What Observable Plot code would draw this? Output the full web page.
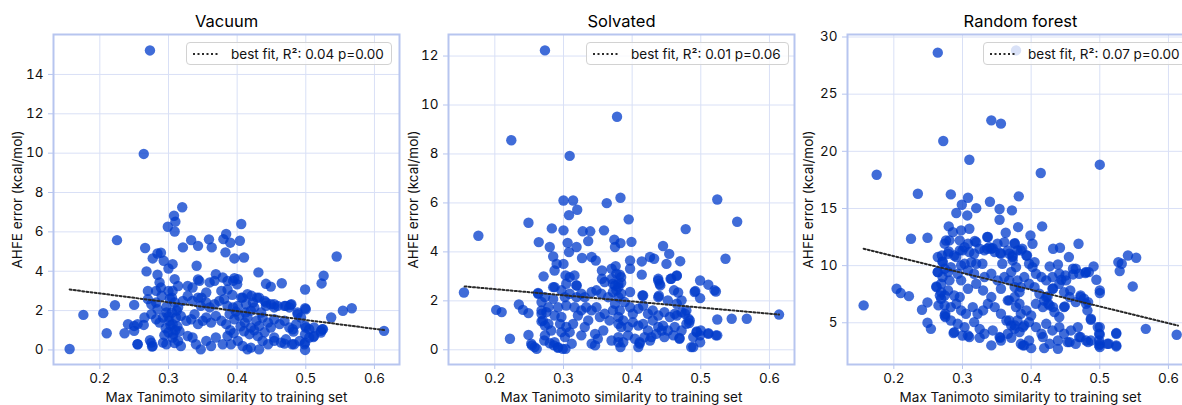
<!DOCTYPE html>
<html><head><meta charset="utf-8">
<script src="https://cdn.jsdelivr.net/npm/d3@7"></script>
<script src="https://cdn.jsdelivr.net/npm/@observablehq/plot@0.6"></script>
<style>
html,body{margin:0;padding:0;background:#fff;overflow:hidden;}
#wrap{position:relative;width:1182px;height:405px;overflow:hidden;font-family:Inter,"DejaVu Sans",sans-serif;}
.panel{position:absolute;top:0;}
.legend{position:absolute;top:42px;height:23px;box-sizing:border-box;border:1px solid #d2d2d2;border-radius:4px;background:rgba(255,255,255,0.8);display:flex;align-items:center;padding:0 7px 0 5px;font-size:13.5px;color:#111;white-space:nowrap;}
.legend svg{margin-right:12px;}
</style></head><body><div id="wrap"></div>
<script>
const titles = ["Vacuum", "Solvated", "Random forest"];
const xLabel = "Max Tanimoto similarity to training set";
const yLabel = "AHFE error (kcal/mol)";
const legendLabels = ["best fit, R\u00b2: 0.04 p=0.00", "best fit, R\u00b2: 0.01 p=0.06", "best fit, R\u00b2: 0.07 p=0.00"];
const xTicks = [0.2, 0.3, 0.4, 0.5, 0.6];
const vacuumYTicks = [0, 2, 4, 6, 8, 10, 12, 14];
const solvatedYTicks = [0, 2, 4, 6, 8, 10, 12];
const forestYTicks = [5, 10, 15, 20, 25, 30];

const vacuumFit = [[0.156, 3.07], [0.614, 1.01]];
const solvatedFit = [[0.156, 2.59], [0.614, 1.44]];
const forestFit = [[0.156, 11.48], [0.614, 4.75]];

const vacuumPoints = [
[.273,15.22],[.264,9.96],[.225,5.58],[.156,0.05],[.176,1.78],[.205,1.87],[.21,0.85],[.222,2.27],[.236,0.85],[.241,1.31],[.25,2.29],[.25,0.97],[.25,1.22],[.255,0.29],[.264,1.27],[.266,5.18],[.268,3.99],[.27,3.0],[.276,0.17],[.273,0.49],[.277,4.65],[.284,4.9],[.289,4.94],[.284,3.82],[.287,3.43],[.293,4.53],[.299,6.26],[.308,6.82],[.31,6.52],[.309,6.02],[.32,7.25],[.321,5.21],[.306,4.36],[.3,4.14],[.309,3.6],[.333,5.58],[.343,5.29],[.341,4.28],[.343,3.58],[.359,5.62],[.363,5.21],[.38,5.63],[.384,5.89],[.383,4.96],[.39,5.45],[.396,4.65],[.404,5.55],[.406,6.4],[.41,4.7],[.369,3.85],[.379,3.68],[.396,3.65],[.4,3.34],[.393,2.8],[.431,3.94],[.442,3.36],[.449,3.22],[.465,3.39],[.499,3.07],[.499,2.12],[.523,3.38],[.526,3.77],[.545,4.75],[.537,1.65],[.554,1.99],[.567,2.12],[.614,0.97],[.524,1.05],[.511,0.66],[.499,0.0],[.499,0.37],[.499,0.8],[.499,1.22],[.488,1.82],[.478,2.29],[.471,2.24],[.482,0.93],[.48,0.29],[.469,0.32],[.454,0.46],[.445,0.29],[.432,0.03],[.415,0.03],[.442,2.41],[.454,2.32],[.429,2.66],[.415,2.83],[.421,2.75],[.406,2.66],
[.282,3.0],[.289,3.17],[.3,3.0],[.306,3.0],[.314,3.25],[.328,3.25],[.335,3.17],[.345,3.51],[.36,3.43],[.367,3.51],[.386,3.51],[.394,3.51],[.401,3.6],[.386,3.07],[.377,3.0],[.355,2.92],[.348,2.66],
[.27,2.58],[.275,2.32],[.282,2.41],[.284,2.07],[.29,2.75],[.305,2.66],[.309,2.41],[.314,2.16],[.321,2.49],[.328,2.75],[.335,2.49],[.343,2.66],[.347,2.24],[.355,2.41],[.36,2.16],[.367,2.32],[.374,2.49],[.381,2.58],[.386,2.24],[.394,2.16],[.401,2.24],[.408,2.66],[.413,2.32],[.423,2.41],[.425,2.16],[.432,2.66],[.44,2.49],[.442,2.24],[.449,2.32],[.454,2.16],[.459,2.24],[.469,2.24],[.476,2.16],[.479,2.32],[.488,1.9],[.5,2.07],
[.255,1.31],[.265,1.65],[.275,1.82],[.282,1.56],[.287,1.39],[.292,1.65],[.297,1.9],[.301,1.48],[.306,1.31],[.311,1.65],[.318,1.73],[.326,1.48],[.333,1.56],[.338,1.82],[.343,1.31],[.35,1.48],[.355,1.65],[.362,1.39],[.369,1.73],[.377,1.48],[.384,1.31],[.389,1.82],[.396,1.56],[.403,1.73],[.411,1.39],[.415,1.65],[.42,1.14],[.428,1.48],[.432,1.22],[.437,1.65],[.445,1.39],[.449,1.14],[.454,1.56],[.462,1.31],[.469,1.48],[.476,1.14],[.481,1.05],[.486,1.31],[.493,1.65],[.5,1.14],[.505,1.05],[.512,1.14],[.522,0.97],[.525,1.05],
[.255,0.29],[.275,0.37],[.277,0.2],[.292,0.37],[.297,0.29],[.306,0.63],[.314,0.46],[.318,0.2],[.328,0.71],[.335,0.63],[.34,0.29],[.347,0.03],[.355,0.46],[.362,0.2],[.369,0.63],[.379,0.29],[.386,0.71],[.391,0.29],[.401,0.46],[.408,0.2],[.42,0.12],[.437,0.46],[.454,0.63],[.464,0.37],[.471,0.54],[.483,0.29],[.491,0.46],[.498,0.29],[.505,0.63],[.512,0.71],[.522,0.88],
[.296,1.1],[.3,0.9],[.303,1.25],[.307,0.8],[.31,1.0],[.312,2.0],[.316,0.95],[.297,2.2],[.302,2.6],[.294,0.75],[.305,1.9],[.3,1.7],[.309,0.35],[.313,1.2],
[.39,1.0],[.395,0.85],[.405,1.2],[.41,0.95],[.418,0.8],[.425,1.0],[.43,0.7],[.398,1.95],[.412,1.9],[.42,2.0],[.435,1.9],[.44,0.9]
];

const solvatedPoints = [
[.273,12.23],[.378,9.52],[.224,8.56],[.309,7.92],[.176,4.66],[.155,2.34],[.249,5.19],[.3,6.1],[.314,6.1],[.32,5.72],[.308,5.5],[.363,5.99],[.383,6.21],[.395,5.33],[.524,6.14],[.553,5.23],[.536,3.72],[.478,4.93],[.283,4.96],[.3,4.88],[.264,4.4],[.28,4.2],[.306,4.37],[.319,4.2],[.328,4.84],[.339,4.84],[.359,4.88],[.336,4.44],[.374,4.5],[.383,4.36],[.375,4.2],[.399,4.41],[.285,3.81],[.29,3.51],[.3,3.51],[.308,3.99],[.327,3.75],[.341,3.79],[.347,3.65],[.356,3.24],[.37,3.31],[.376,3.42],[.397,3.65],[.397,3.31],[.414,3.61],[.426,3.79],[.432,3.72],[.445,4.24],[.454,3.92],[.45,3.51],[.47,3.62],[.271,3.0],[.287,3.24],[.303,3.04],[.316,3.04],[.319,2.63],[.356,2.9],[.382,3.07],[.384,2.74],[.414,3.07],[.438,2.83],[.441,2.63],[.456,2.9],[.465,3.02],[.499,2.83],[.511,2.66],[.522,2.38],[.499,2.11],[.492,2.4],[.467,2.34],[.461,2.43],[.439,2.21],[.415,2.22],[.545,1.27],[.567,1.27],[.614,1.44],[.524,1.24],[.524,0.59],[.511,0.68],[.499,0.31],[.489,0.11],[.5,0.79],[.494,0.75],[.202,1.63],[.21,1.54],[.235,1.85],[.241,1.63],[.249,1.5],[.222,0.45],[.249,0.61],[.254,0.18],[.261,0.04],[.263,2.32],[.268,1.16],[.272,0.38],[.28,0.27],[.286,0.18],[.292,0.08],[.303,0.04],[.312,0.25],[.346,0.18],[.383,0.11],[.409,0.11],[.411,0.31],[.428,0.52],[.443,0.79],[.469,0.48],[.482,1.27],[.483,1.09],[.477,1.47],[.465,1.4],
[.263,2.29],[.273,2.15],[.268,1.95],[.278,1.74],[.285,2.08],[.287,2.56],[.297,2.43],[.302,2.15],[.309,2.29],[.319,2.15],[.326,2.29],[.331,2.15],[.341,2.36],[.348,2.43],[.355,2.29],[.365,2.15],[.372,2.36],[.38,2.15],[.27,1.2],[.278,1.06],[.282,0.79],[.273,0.59],[.287,0.31],[.295,1.06],[.297,0.72],[.302,0.52],[.304,0.93],[.309,0.72],[.314,1.06],[.321,1.4],[.326,0.59],[.331,0.93],[.336,1.2],[.341,1.61],[.348,1.74],[.353,1.34],[.36,1.47],[.367,1.2],[.372,1.61],[.38,1.34],[.384,0.93],[.358,0.79],[.346,0.65],[.341,0.25],[.35,0.45],[.37,0.38],[.38,0.31],[.258,0.11],[.253,0.25],[.292,0.11],[.299,0.04],[.268,1.47],[.275,1.54],[.292,1.74],[.304,1.81],[.316,1.74],[.326,1.61],[.333,1.74],[.297,1.34],[.287,1.4],[.273,0.99],[.372,2.7],[.36,2.77],[.38,2.56],[.37,2.9],[.377,3.11],[.309,2.97],[.304,2.7],[.319,2.63],[.285,2.56],[.268,1.61],
[.375,1.88],[.382,1.61],[.389,1.95],[.397,1.74],[.401,1.47],[.409,1.68],[.416,1.81],[.423,1.47],[.43,1.61],[.438,1.4],[.447,1.54],[.455,1.34],[.462,1.47],[.472,1.54],[.479,1.61],[.38,1.06],[.387,1.2],[.394,0.93],[.401,1.13],[.409,0.99],[.416,1.06],[.423,0.79],[.43,1.2],[.438,0.93],[.445,0.99],[.452,0.79],[.462,0.93],[.472,0.79],[.479,1.06],[.484,1.2],[.38,0.52],[.387,0.31],[.394,0.59],[.404,0.45],[.411,0.25],[.418,0.52],[.426,0.38],[.435,0.65],[.447,0.52],[.46,0.59],[.469,0.45],[.489,0.52],[.494,0.72],[.499,0.59],[.486,0.11],[.511,0.65],[.522,0.59],[.465,1.88],[.472,2.02],[.438,2.15],[.452,2.02],[.416,2.22],[.377,2.43],[.384,2.29],[.397,2.36],[.438,2.9],[.44,2.7],[.457,2.9],[.465,3.04],[.491,2.36],[.52,2.43],[.375,2.63],[.38,2.7],[.384,2.97]
];

const forestPoints = [
[.264,28.63],[.378,28.83],[.342,22.71],[.356,22.42],[.272,20.9],[.31,19.26],[.175,17.95],[.414,18.1],[.5,18.83],[.235,16.29],[.283,16.23],[.382,16.06],[.308,15.94],[.34,15.59],[.354,14.95],[.372,14.83],[.354,14.01],[.32,15.03],[.299,15.33],[.291,14.6],[.307,14.39],[.298,13.08],[.28,13.43],[.286,12.93],[.31,13.23],[.363,12.88],[.381,13.37],[.416,13.43],[.399,12.64],[.402,11.91],[.225,12.35],[.249,12.44],[.276,12.2],[.318,12.15],[.336,12.5],[.376,11.97],[.336,11.48],[.344,11.53],[.355,11.1],[.387,11.48],[.432,11.48],[.442,11.56],[.469,11.91],[.27,10.89],[.28,11.24],[.291,10.75],[.3,11.33],[.271,10.37],[.32,10.16],[.329,10.16],[.358,10.16],[.373,10.75],[.394,10.89],[.405,10.31],[.427,9.93],[.439,10.1],[.455,10.75],[.527,10.31],[.532,10.16],[.541,10.89],[.553,10.69],[.491,9.93],[.465,9.73],[.461,9.23],[.45,9.14],[.444,8.76],[.484,9.43],[.495,8.76],[.529,9.52],[.548,8.18],[.479,9.35],[.5,7.83],[.5,7.6],[.483,6.81],[.472,7.39],[.477,7.1],[.457,7.83],[.432,8.0],[.424,7.3],[.419,6.95],[.425,6.66],[.432,6.37],[.449,6.43],[.482,6.08],[.487,5.26],[.5,4.62],[.5,3.98],[.5,3.16],[.5,2.87],[.513,3.16],[.524,4.1],[.524,2.93],[.567,4.47],[.612,3.95],[.156,6.52],[.204,7.98],[.21,7.6],[.222,7.33],[.241,6.14],[.249,6.78],[.249,5.0],[.254,4.47],[.262,8.18],[.264,9.43],[.271,9.0],[.267,7.39],[.265,6.52],[.275,5.79],[.275,5.5],[.287,4.1],[.3,3.89],[.31,3.75],[.325,3.69],[.342,3.02],[.355,3.69],[.371,3.69],[.39,3.02],[.4,2.78],[.419,2.78],[.439,2.72],[.456,3.31],[.472,3.75],[.483,3.31],
[.264,10.75],[.271,10.31],[.279,11.04],[.288,10.89],[.296,11.33],[.303,11.62],[.31,11.19],[.317,11.04],[.325,11.48],[.332,11.33],[.339,11.62],[.347,11.19],[.356,11.04],[.366,11.33],[.373,10.89],[.38,11.33],[.274,11.92],[.281,12.21],[.296,12.21],[.308,11.92],[.32,12.06],[.337,12.5],[.342,11.48],[.351,11.92],[.361,12.06],[.376,11.92],[.264,9.44],[.274,9.73],[.283,9.87],[.298,10.02],[.308,9.58],[.317,9.29],[.332,9.0],[.342,9.29],[.351,8.71],[.361,9.0],[.371,9.44],[.38,8.71],[.385,8.12],[.269,8.41],[.262,8.12],[.279,7.83],[.288,7.39],[.298,8.71],[.308,7.98],[.32,8.41],[.33,7.83],[.342,7.25],[.356,7.98],[.366,6.96],[.376,7.25],[.383,6.66],[.269,7.1],[.274,6.52],[.283,6.37],[.291,6.66],[.298,6.08],[.296,7.25],[.305,5.79],[.315,6.37],[.322,5.79],[.33,6.08],[.337,6.66],[.347,6.37],[.356,5.79],[.364,5.2],[.371,4.77],[.38,5.2],[.388,4.62],[.274,5.64],[.283,5.2],[.293,4.91],[.303,4.62],[.317,5.06],[.325,4.47],[.332,4.04],[.344,4.33],[.354,3.75],[.366,4.04],[.376,4.47],[.288,4.18],[.308,3.89],[.356,3.45],[.385,3.16],[.274,7.39],[.269,7.68],[.281,8.71],[.303,10.16],[.313,10.31],[.293,9.29],[.279,9.44],
[.368,11.04],[.373,10.46],[.378,9.87],[.385,11.33],[.393,10.89],[.397,10.16],[.402,9.87],[.407,9.29],[.415,9.0],[.422,8.71],[.431,9.0],[.441,9.29],[.451,8.71],[.461,9.73],[.47,9.29],[.48,9.44],[.368,8.71],[.376,8.12],[.383,7.68],[.39,9.0],[.397,8.41],[.405,8.12],[.412,7.54],[.422,7.25],[.431,7.98],[.441,8.41],[.448,7.68],[.456,7.25],[.465,6.81],[.472,7.25],[.48,6.66],[.487,5.35],[.368,6.96],[.378,6.37],[.385,5.79],[.393,6.08],[.4,5.64],[.407,6.66],[.417,6.37],[.427,6.52],[.434,5.93],[.441,5.5],[.448,6.37],[.368,5.2],[.376,4.77],[.383,4.18],[.39,4.77],[.397,5.06],[.407,4.62],[.415,4.04],[.422,4.91],[.431,4.33],[.441,4.62],[.448,4.04],[.458,4.33],[.468,4.62],[.47,3.75],[.48,3.45],[.487,3.45],[.497,4.62],[.499,4.04],[.499,3.45],[.499,3.02],[.511,3.16],[.524,4.04],[.524,3.02],[.439,3.45],[.417,3.75],[.397,3.45],[.388,3.02],[.427,3.16],[.453,3.31],[.465,3.16]
];

const FONT = 'Inter, "DejaVu Sans", sans-serif';
const FRAME = "#b7c5ef";
const GRID = "#d9e0f6";
const DOT = "#003bcb";
const FIT = "#2a2a2a";
const xDomain = [0.1325, 0.6365];

const panels = [
  {left: 0, points: vacuumPoints, fit: vacuumFit, yDomain: [-0.74, 16.03], yTicks: vacuumYTicks, ylabelDx: -36, legendLeft: 186},
  {left: 395, points: solvatedPoints, fit: solvatedFit, yDomain: [-0.6, 12.88], yTicks: solvatedYTicks, ylabelDx: -35, legendLeft: 586},
  {left: 794, points: forestPoints, fit: forestFit, yDomain: [1.35, 30.22], yTicks: forestYTicks, ylabelDx: -39, legendLeft: 983}
];

const wrap = document.getElementById("wrap");
panels.forEach((p, i) => {
  const pts = p.points.map(([x, y]) => ({x, y}));
  const fit = p.fit.map(([x, y]) => ({x, y}));
  const chart = Plot.plot({
    width: 400, height: 405,
    marginLeft: 53, marginRight: 1, marginTop: 34, marginBottom: 41,
    style: {fontFamily: FONT, fontSize: "13.5px", color: "#111", background: "transparent", overflow: "visible"},
    x: {domain: xDomain, label: null},
    y: {domain: p.yDomain, label: null},
    marks: [
      Plot.gridX(xTicks, {stroke: GRID, strokeOpacity: 1, strokeWidth: 1}),
      Plot.gridY(p.yTicks, {stroke: GRID, strokeOpacity: 1, strokeWidth: 1}),
      Plot.dot(pts, {x: "x", y: "y", r: 5.2, fill: DOT, fillOpacity: 0.75, stroke: null}),
      Plot.line(fit, {x: "x", y: "y", stroke: FIT, strokeWidth: 2, strokeDasharray: "2,2.2"}),
      Plot.frame({stroke: FRAME, strokeWidth: 2}),
      Plot.axisX(xTicks, {tickSize: 5, tickPadding: 4, stroke: FRAME, fill: "#111", label: null, tickFormat: d3.format(".1f")}),
      Plot.axisY(p.yTicks, {tickSize: 5, tickPadding: 5, stroke: FRAME, fill: "#111", label: null}),
      Plot.text([titles[i]], {text: d => d, frameAnchor: "top", dy: -13, lineAnchor: "middle", fontSize: 16.5, fontWeight: "normal", fill: "#000"}),
      Plot.text([xLabel], {text: d => d, frameAnchor: "bottom", dy: 33, lineAnchor: "middle", fontSize: 13.5, fill: "#111"}),
      Plot.text([yLabel], {text: d => d, frameAnchor: "left", dx: p.ylabelDx, rotate: -90, lineAnchor: "middle", textAnchor: "middle", fontSize: 13.5, fill: "#111"})
    ]
  });
  chart.classList.add("panel");
  chart.style.left = p.left + "px";
  wrap.appendChild(chart);

  const leg = document.createElement("div");
  leg.className = "legend";
  leg.style.left = p.legendLeft + "px";
  leg.innerHTML = '<svg width="27" height="4"><line x1="1" y1="2" x2="27" y2="2" stroke="' + FIT + '" stroke-width="2" stroke-dasharray="2,2.5"/></svg>';
  const span = document.createElement("span");
  span.textContent = legendLabels[i];
  leg.appendChild(span);
  wrap.appendChild(leg);
});
</script></body></html>
